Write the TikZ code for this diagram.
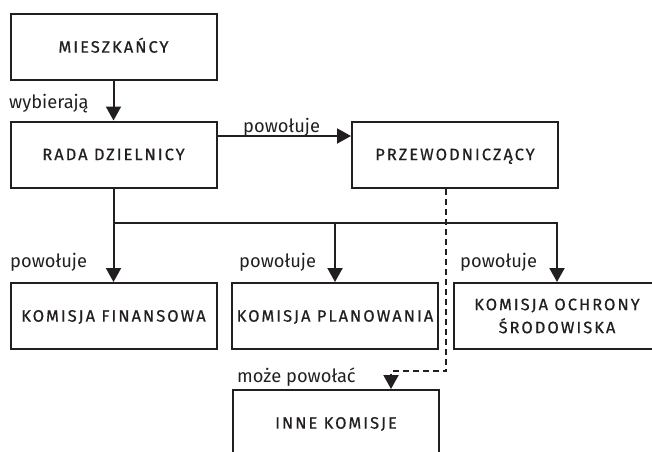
\documentclass[tikz,border=0pt]{standalone}
\usepackage{fontspec}
\setmainfont{Fira Sans}
\newfontfamily\boxfont[LetterSpace=12, FakeBold=0.6]{Fira Sans}
\usetikzlibrary{arrows.meta}
\definecolor{ink}{HTML}{231F20}
\begin{document}
\begin{tikzpicture}[x=1pt,y=-1pt,
  box/.style={draw=ink, line width=2pt, minimum width=206pt, minimum height=66pt,
    inner sep=0pt, font=\boxfont\fontsize{16.5}{23}\selectfont, text=ink, align=center},
  single/.style={text height=11.3pt, text depth=0pt},
  lbl/.style={font=\fontsize{18.3}{20}\selectfont, text=ink, inner sep=0pt},
  conn/.style={draw=ink, line width=2pt, -{Triangle[width=15pt,length=14pt]}},
  dconn/.style={conn, dash pattern=on 6pt off 4pt}]
\clip (0,0) rectangle (652,451);

% boxes
\node[box, single] (mies) at (113.5,47)    {MIESZKAŃCY};
\node[box, single] (rada) at (113.5,154.5) {RADA DZIELNICY};
\node[box, single] (prze) at (455,154.5)   {PRZEWODNICZĄCY};
\node[box, single] (fin)  at (113.5,316)   {KOMISJA FINANSOWA};
\node[box, single] (plan) at (335,316)     {KOMISJA PLANOWANIA};
\node[box]         (ochr) at (557,316)     {KOMISJA OCHRONY\\ŚRODOWISKA};
\node[box, single] (inne) at (336,423)     {INNE KOMISJE};

% connectors
\coordinate (bus) at (0,223);
\coordinate (kink) at (391,371);
\draw[conn] (mies) -- (rada);
\draw[conn] ([yshift=18.5pt]rada.east) -- ([yshift=18.5pt]prze.west);
\draw[conn] (rada) -- (fin);
\draw[conn] (rada.south |- bus) -| (ochr.north);
\draw[conn] (plan.north |- bus) -- (plan.north);
\draw[dconn] ([xshift=-9pt]prze.south) |- (kink) -- (kink |- inne.north);

% labels
\node[lbl, anchor=base west] (l1) at (9,108)   {wybierają};
\node[lbl, anchor=base west] (l2) at (243,132) {powołuje};
\node[lbl, anchor=base west] (l3) at (10,267)  {powołuje};
\node[lbl, anchor=base west] (l4) at (239,267) {powołuje};
\node[lbl, anchor=base west] (l5) at (460,267) {powołuje};
\node[lbl, anchor=base west] (l6) at (237,382) {może powołać};
\end{tikzpicture}
\end{document}
